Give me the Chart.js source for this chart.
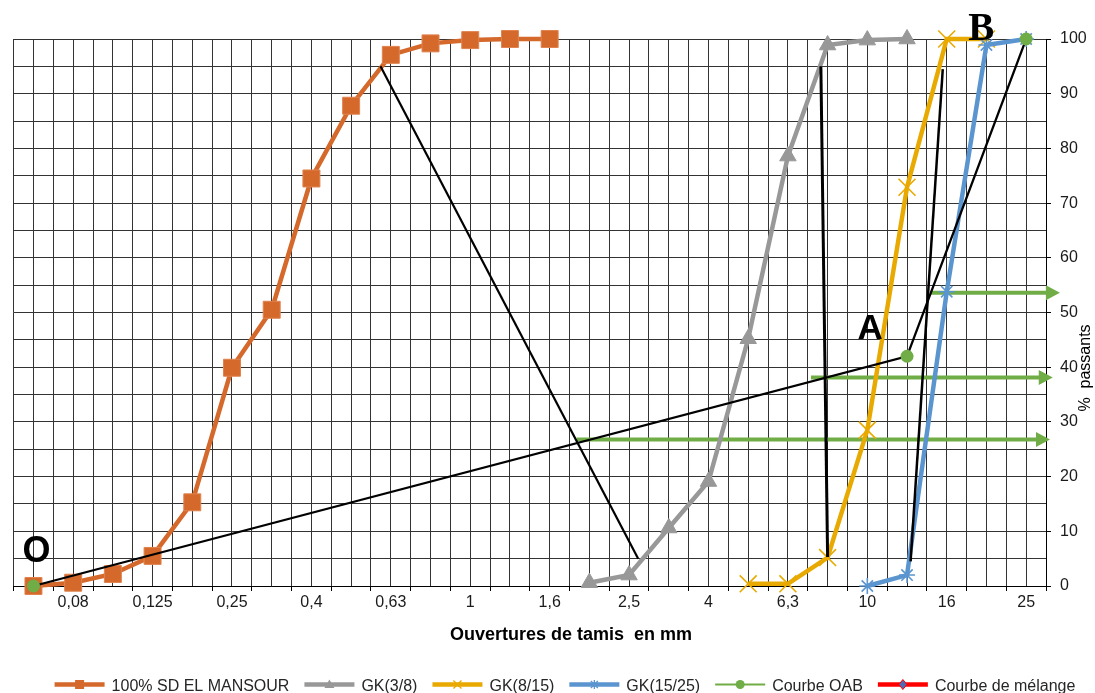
<!DOCTYPE html>
<html lang="fr">
<head>
<meta charset="utf-8">
<title>Courbes granulométriques</title>
<script src="https://cdn.jsdelivr.net/npm/chart.js@4.4.1/dist/chart.umd.min.js"></script>
<style>
  html, body { margin: 0; padding: 0; background: #fff; }
  #wrap { width: 1095px; height: 693px; }
</style>
</head>
<body>
<div id="wrap"><canvas id="c" width="1095" height="693"></canvas></div>
<script>
// Sieve openings (mm) labelled on the x axis; each sits on an odd category slot
const sieveLabels = ['0,08', '0,125', '0,25', '0,4', '0,63', '1', '1,6', '2,5', '4', '6,3', '10', '16', '25'];
const sieveSlots = [1, 3, 5, 7, 9, 11, 13, 15, 17, 19, 21, 23, 25];

// Percent passing for each material, by category slot
const sandSlots = [0, 1, 2, 3, 4, 5, 6, 7, 8, 9, 10, 11, 12, 13];
const sandPassing = [0, 0.6, 2.2, 5.5, 15.3, 39.9, 50.5, 74.5, 87.8, 97.1, 99.2, 99.8, 100, 100];

const gk38Slots = [14, 15, 16, 17, 18, 19, 20, 21, 22];
const gk38Passing = [0.6, 2.0, 10.6, 19.1, 45.2, 78.6, 98.9, 99.8, 100];

const gk815Slots = [18, 19, 20, 21, 22, 23, 24];
const gk815Passing = [0.4, 0.4, 5.2, 28.5, 72.9, 100, 100];

const gk1525Slots = [21, 22, 23, 24, 25];
const gk1525Passing = [0, 2.0, 53.8, 98.9, 100];

// Reference curve O-A-B
const oabSlots = [0, 22, 25];
const oabPassing = [0, 42, 100];

// Separation lines joining the 95 % and 5 % points of neighbouring curves
const sepSandSlots = [8.74, 15.23];
const sepSandPassing = [95, 5];
const sepGk38Slots = [19.83, 20.0];
const sepGk38Passing = [95, 5.3];
const sepGk815Slots = [22.9, 22.09];
const sepGk815Passing = [94.5, 4.5];

// Proportions: level, start slot, arrow tip slot
const shareLevels = [26.8, 38.1, 53.6];
const shareStartSlots = [13.68, 19.58, 22.59];
const shareTipSlots = [25.6, 25.67, 25.85];

const FONT = '"Liberation Sans", Arial, sans-serif';
const GRID = '#333333';

function pts(xs, ys) { return xs.map((x, i) => ({ x: x, y: ys[i] })); }

const COLORS = {
  sand: '#D4692B',
  gk38: '#989898',
  gk815: '#E8A900',
  gk1525: '#5B95CF',
  oab: '#70AD47',
  mix: '#FF0000'
};

const datasets = [
  { label: 'sep1', data: pts(sepSandSlots, sepSandPassing), borderColor: '#000', borderWidth: 2.2, pointRadius: 0, showLine: true, order: -1 },
  { label: 'sep2', data: pts(sepGk38Slots, sepGk38Passing), borderColor: '#000', borderWidth: 3, pointRadius: 0, showLine: true, order: -1 },
  { label: 'sep3', data: pts(sepGk815Slots, sepGk815Passing), borderColor: '#000', borderWidth: 2.5, pointRadius: 0, showLine: true, order: -1 },
  { label: 'Courbe OAB', data: pts(oabSlots, oabPassing), borderColor: '#000', borderWidth: 2.2, showLine: true,
    pointStyle: 'circle', pointRadius: 6.5, pointBackgroundColor: COLORS.oab, pointBorderColor: COLORS.oab, pointBorderWidth: 0, order: -2 },
  { label: 'GK(15/25)', data: pts(gk1525Slots, gk1525Passing), borderColor: COLORS.gk1525, borderWidth: 4.5, showLine: true,
    pointStyle: 'star', pointRadius: 8, pointBorderColor: COLORS.gk1525, pointBorderWidth: 1.6, order: 1 },
  { label: 'GK(8/15)', data: pts(gk815Slots, gk815Passing), borderColor: COLORS.gk815, borderWidth: 4.5, showLine: true,
    pointStyle: 'crossRot', pointRadius: 12, pointBorderColor: COLORS.gk815, pointBorderWidth: 1.6, order: 2 },
  { label: 'GK(3/8)', data: pts(gk38Slots, gk38Passing), borderColor: COLORS.gk38, borderWidth: 4.5, showLine: true,
    pointStyle: 'triangle', pointRadius: 9.5, pointBackgroundColor: COLORS.gk38, pointBorderColor: COLORS.gk38, pointBorderWidth: 1, order: 3 },
  { label: '100% SD EL MANSOUR', data: pts(sandSlots, sandPassing), borderColor: COLORS.sand, borderWidth: 4.5, showLine: true,
    pointStyle: 'rect', pointRadius: 12, pointBackgroundColor: COLORS.sand, pointBorderColor: '#E0834F', pointBorderWidth: 1, order: 4 }
];
datasets.forEach(d => { d.clip = false; });

// Horizontal arrows showing each material share, drawn beneath the curves
const shareArrows = {
  id: 'shareArrows',
  beforeDatasetsDraw(chart) {
    const { ctx, scales: { x, y } } = chart;
    ctx.save();
    ctx.strokeStyle = COLORS.oab;
    ctx.fillStyle = COLORS.oab;
    ctx.lineWidth = 4;
    shareLevels.forEach((lv, i) => {
      const py = y.getPixelForValue(lv);
      const x0 = x.getPixelForValue(shareStartSlots[i]);
      const tip = x.getPixelForValue(shareTipSlots[i]);
      const head = 14;
      ctx.beginPath();
      ctx.moveTo(x0, py);
      ctx.lineTo(tip - head + 1, py);
      ctx.stroke();
      ctx.beginPath();
      ctx.moveTo(tip, py);
      ctx.lineTo(tip - head, py - 7.5);
      ctx.lineTo(tip - head, py + 7.5);
      ctx.closePath();
      ctx.fill();
    });
    ctx.restore();
  }
};

function drawMarker(ctx, kind, cx, cy, color) {
  ctx.save();
  ctx.fillStyle = color;
  ctx.strokeStyle = color;
  ctx.lineWidth = 1.3;
  if (kind === 'rect') {
    ctx.fillRect(cx - 4.5, cy - 4.5, 9, 9);
  } else if (kind === 'triangle') {
    ctx.beginPath();
    ctx.moveTo(cx, cy - 5); ctx.lineTo(cx + 5, cy + 3.5); ctx.lineTo(cx - 5, cy + 3.5);
    ctx.closePath(); ctx.fill();
  } else if (kind === 'crossRot') {
    ctx.beginPath();
    ctx.moveTo(cx - 4, cy - 4); ctx.lineTo(cx + 4, cy + 4);
    ctx.moveTo(cx + 4, cy - 4); ctx.lineTo(cx - 4, cy + 4);
    ctx.stroke();
  } else if (kind === 'star') {
    ctx.beginPath();
    ctx.moveTo(cx - 3.5, cy - 3.5); ctx.lineTo(cx + 3.5, cy + 3.5);
    ctx.moveTo(cx + 3.5, cy - 3.5); ctx.lineTo(cx - 3.5, cy + 3.5);
    ctx.moveTo(cx, cy - 4.5); ctx.lineTo(cx, cy + 4.5);
    ctx.stroke();
  } else if (kind === 'circle') {
    ctx.beginPath(); ctx.arc(cx, cy, 4.5, 0, Math.PI * 2); ctx.fill();
  } else if (kind === 'diamond') {
    ctx.beginPath();
    ctx.moveTo(cx, cy - 5); ctx.lineTo(cx + 4, cy); ctx.lineTo(cx, cy + 5); ctx.lineTo(cx - 4, cy);
    ctx.closePath();
    ctx.fillStyle = '#4F6BB5'; ctx.fill();
    ctx.strokeStyle = COLORS.mix; ctx.lineWidth = 1; ctx.stroke();
  }
  ctx.restore();
}

const legendItems = [
  { text: '100% SD EL MANSOUR', color: COLORS.sand, width: 4.5, marker: 'rect' },
  { text: 'GK(3/8)', color: COLORS.gk38, width: 4.5, marker: 'triangle' },
  { text: 'GK(8/15)', color: COLORS.gk815, width: 4.5, marker: 'crossRot' },
  { text: 'GK(15/25)', color: COLORS.gk1525, width: 4.5, marker: 'star' },
  { text: 'Courbe OAB', color: COLORS.oab, width: 2.2, marker: 'circle' },
  { text: 'Courbe de mélange', color: COLORS.mix, width: 4.5, marker: 'diamond' }
];

// Point letters, axis titles and the legend row
const overlay = {
  id: 'overlay',
  afterDraw(chart) {
    const { ctx, scales: { x, y } } = chart;
    ctx.save();

    // Letters O, A, B next to the reference points
    const pO = [x.getPixelForValue(oabSlots[0]), y.getPixelForValue(oabPassing[0])];
    const pA = [x.getPixelForValue(oabSlots[1]), y.getPixelForValue(oabPassing[1])];
    const pB = [x.getPixelForValue(oabSlots[2]), y.getPixelForValue(oabPassing[2])];
    ctx.fillStyle = '#000';
    ctx.textBaseline = 'alphabetic';
    ctx.textAlign = 'center';
    ctx.font = 'bold 36px ' + FONT;
    ctx.fillText('O', pO[0] + 3, pO[1] - 24);
    ctx.font = 'bold 35px ' + FONT;
    ctx.fillText('A', pA[0] - 37, pA[1] - 17);
    ctx.font = 'bold 39px "Liberation Serif", "Times New Roman", serif';
    ctx.fillText('B', pB[0] - 45, pB[1] + 1);

    // X axis title
    ctx.font = 'bold 18px ' + FONT;
    ctx.fillStyle = '#000';
    ctx.fillText('Ouvertures de tamis  en mm', 571, 640);

    // Y axis title, reading upwards
    ctx.save();
    ctx.translate(1086, 368);
    ctx.rotate(-Math.PI / 2);
    ctx.font = '16px ' + FONT;
    ctx.textBaseline = 'middle';
    ctx.fillText('%  passants', 0, 0);
    ctx.restore();

    // Legend
    ctx.font = '16px ' + FONT;
    ctx.textAlign = 'left';
    ctx.textBaseline = 'alphabetic';
    const lineLen = 50, gapLine = 7, gapItem = 15;
    const widths = legendItems.map(it => ctx.measureText(it.text).width);
    let total = 0;
    widths.forEach((w, i) => { total += lineLen + gapLine + w + (i < widths.length - 1 ? gapItem : 0); });
    let cx = 565 - total / 2;
    const ly = 684.5;
    legendItems.forEach((it, i) => {
      ctx.strokeStyle = it.color;
      ctx.lineWidth = it.width;
      ctx.beginPath();
      ctx.moveTo(cx, ly);
      ctx.lineTo(cx + lineLen, ly);
      ctx.stroke();
      drawMarker(ctx, it.marker, cx + lineLen / 2, ly, it.color);
      ctx.fillStyle = '#262626';
      ctx.fillText(it.text, cx + lineLen + gapLine, 690.5);
      cx += lineLen + gapLine + widths[i] + gapItem;
    });

    ctx.restore();
  }
};

const xTickValues = [];
for (let v = -0.5; v <= 25.5001; v += 0.5) xTickValues.push(Math.round(v * 10) / 10);
const yTickValues = [];
for (let v = 0; v <= 100; v += 5) yTickValues.push(v);

new Chart(document.getElementById('c'), {
  type: 'scatter',
  data: { datasets: datasets },
  options: {
    responsive: false,
    devicePixelRatio: 1,
    animation: false,
    layout: { padding: { left: 10, top: 39, right: 0, bottom: 0 } },
    plugins: { legend: { display: false }, tooltip: { enabled: false } },
    elements: { line: { tension: 0 } },
    scales: {
      x: {
        type: 'linear',
        min: -0.5,
        max: 25.5,
        afterBuildTicks: axis => { axis.ticks = xTickValues.map(v => ({ value: v })); },
        afterFit: axis => { axis.height = 107; },
        grid: {
          color: GRID,
          lineWidth: 1,
          drawTicks: true,
          tickLength: 5,
          tickColor: c => (Math.abs(c.tick.value % 1) === 0.5 ? '#000' : 'rgba(0,0,0,0)')
        },
        border: { color: '#000', width: 1 },
        ticks: {
          autoSkip: false,
          maxRotation: 0,
          minRotation: 0,
          padding: 2,
          color: '#1a1a1a',
          font: { family: FONT, size: 16 },
          callback: v => {
            const k = sieveSlots.indexOf(v);
            return k >= 0 ? sieveLabels[k] : '';
          }
        }
      },
      y: {
        type: 'linear',
        position: 'right',
        min: 0,
        max: 100,
        afterBuildTicks: axis => { axis.ticks = yTickValues.map(v => ({ value: v })); },
        afterFit: axis => { axis.width = 49; },
        grid: {
          color: GRID,
          lineWidth: 1,
          drawTicks: true,
          tickLength: 5,
          tickColor: c => (c.tick.value % 10 === 0 ? '#000' : 'rgba(0,0,0,0)')
        },
        border: { color: '#000', width: 1 },
        ticks: {
          padding: 9,
          color: '#1a1a1a',
          font: { family: FONT, size: 16 },
          callback: v => (v % 10 === 0 ? String(v) : '')
        }
      }
    }
  },
  plugins: [shareArrows, overlay]
});
</script>
</body>
</html>
